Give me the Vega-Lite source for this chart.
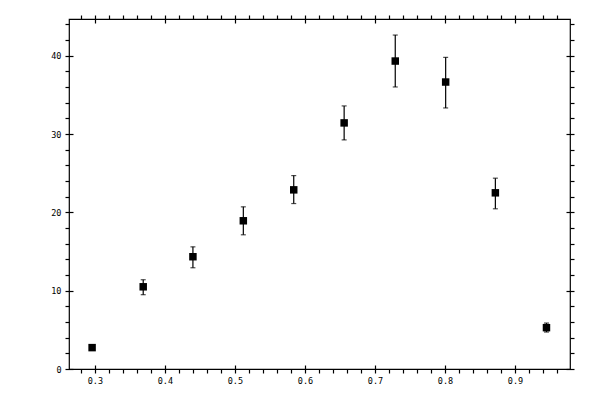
{
  "$schema": "https://vega.github.io/schema/vega-lite/v6.json",
  "width": 501,
  "height": 350,
  "autosize": "none",
  "padding": {"left": 69, "top": 19, "right": 30, "bottom": 31},
  "background": "white",
  "data": {
    "values": [
      {"x": 0.296, "y": 2.73, "lo": 2.55, "hi": 2.9},
      {"x": 0.369, "y": 10.5, "lo": 9.49, "hi": 11.4},
      {"x": 0.440, "y": 14.34, "lo": 12.93, "hi": 15.6},
      {"x": 0.512, "y": 18.93, "lo": 17.14, "hi": 20.71},
      {"x": 0.584, "y": 22.88, "lo": 21.13, "hi": 24.7},
      {"x": 0.656, "y": 31.43, "lo": 29.26, "hi": 33.6},
      {"x": 0.729, "y": 39.33, "lo": 36.02, "hi": 42.65},
      {"x": 0.801, "y": 36.65, "lo": 33.34, "hi": 39.8},
      {"x": 0.872, "y": 22.5, "lo": 20.46, "hi": 24.37},
      {"x": 0.945, "y": 5.28, "lo": 4.72, "hi": 5.87}
    ]
  },
  "layer": [
    {
      "mark": {"type": "rule", "color": "black", "strokeWidth": 1.2},
      "encoding": {
        "x": {
          "field": "x", "type": "quantitative",
          "scale": {"domain": [0.263, 0.9786], "nice": false, "zero": false},
          "axis": {"orient": "bottom", "title": null, "values": [0.3, 0.4, 0.5, 0.6, 0.7, 0.8, 0.9], "format": ".1f", "offset": -4, "tickSize": 8, "labelPadding": 3}
        },
        "y": {
          "field": "lo", "type": "quantitative",
          "scale": {"domain": [0, 44.7], "nice": false, "zero": false},
          "axis": {"orient": "left", "title": null, "values": [0, 10, 20, 30, 40], "offset": -4, "tickSize": 8, "labelPadding": 4}
        },
        "y2": {"field": "hi"}
      }
    },
    {
      "mark": {"type": "tick", "color": "black", "orient": "horizontal", "size": 5, "thickness": 1.2},
      "encoding": {
        "x": {"field": "x", "type": "quantitative",
          "axis": {"orient": "top", "title": null, "values": [0.3, 0.4, 0.5, 0.6, 0.7, 0.8, 0.9], "labels": false, "offset": -4, "tickSize": 8}},
        "y": {"field": "hi", "type": "quantitative",
          "axis": {"orient": "right", "title": null, "values": [0, 10, 20, 30, 40], "labels": false, "offset": -4, "tickSize": 8}}
      }
    },
    {
      "mark": {"type": "tick", "color": "black", "orient": "horizontal", "size": 5, "thickness": 1.2},
      "encoding": {
        "x": {"field": "x", "type": "quantitative",
          "axis": {"orient": "bottom", "title": null, "values": [0.28, 0.32, 0.34, 0.36, 0.38, 0.42, 0.44, 0.46, 0.48, 0.52, 0.54, 0.56, 0.58, 0.62, 0.64, 0.66, 0.68, 0.72, 0.74, 0.76, 0.78, 0.82, 0.84, 0.86, 0.88, 0.92, 0.94, 0.96], "labels": false, "tickSize": 4}},
        "y": {"field": "lo", "type": "quantitative",
          "axis": {"orient": "left", "title": null, "values": [2, 4, 6, 8, 12, 14, 16, 18, 22, 24, 26, 28, 32, 34, 36, 38, 42, 44], "labels": false, "tickSize": 4}}
      }
    },
    {
      "mark": {"type": "square", "color": "black", "filled": true, "opacity": 1, "size": 56},
      "encoding": {
        "x": {"field": "x", "type": "quantitative",
          "axis": {"orient": "top", "title": null, "values": [0.28, 0.32, 0.34, 0.36, 0.38, 0.42, 0.44, 0.46, 0.48, 0.52, 0.54, 0.56, 0.58, 0.62, 0.64, 0.66, 0.68, 0.72, 0.74, 0.76, 0.78, 0.82, 0.84, 0.86, 0.88, 0.92, 0.94, 0.96], "labels": false, "tickSize": 4}},
        "y": {"field": "y", "type": "quantitative",
          "axis": {"orient": "right", "title": null, "values": [2, 4, 6, 8, 12, 14, 16, 18, 22, 24, 26, 28, 32, 34, 36, 38, 42, 44], "labels": false, "tickSize": 4}}
      }
    }
  ],
  "resolve": {"axis": {"x": "independent", "y": "independent"}},
  "config": {
    "view": {"stroke": "black", "strokeWidth": 1.2},
    "axis": {
      "domain": false,
      "grid": false,
      "tickColor": "black",
      "tickWidth": 1.2,
      "labelColor": "black",
      "labelFont": "DejaVu Sans Mono",
      "labelFontSize": 8.5
    }
  }
}
